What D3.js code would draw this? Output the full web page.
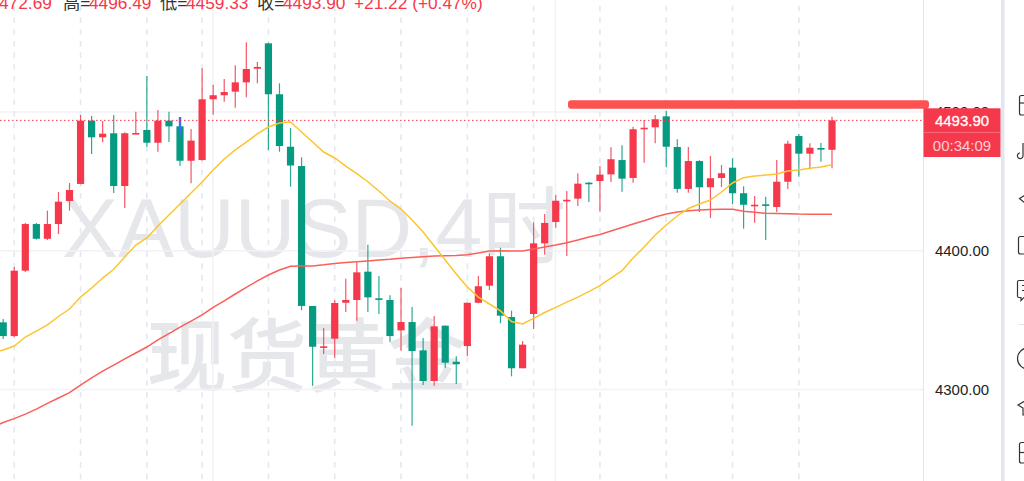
<!DOCTYPE html>
<html><head><meta charset="utf-8">
<style>html,body{margin:0;padding:0;background:#fff;overflow:hidden}svg{display:block}</style>
<script src="https://cdnjs.cloudflare.com/ajax/libs/d3/7.8.5/d3.min.js"></script>
</head><body><svg id="c" width="1024" height="481"></svg>
<script>
const opens=[4348.4,4338.5,4385.6,4419.2,4408.6,4419.2,4435.8,4448.1,4493.7,4481.7,4484.6,4446.6,4484.1,4487,4477.8,4493.7,4489.6,4464.8,4465.3,4509.1,4512,4514.6,4521.3,4531.1,4549.4,4512.7,4474.9,4461,4360.2,4330.4,4336.6,4362.5,4364.5,4384.9,4365.7,4364.5,4342.6,4348.6,4328.2,4306.1,4346,4320,4331.3,4362.5,4374.8,4396,4352.2,4315.3,4354.4,4405.3,4420.7,4436,4437.5,4449,4450.2,4455,4465.3,4452.4,4487.5,4488.9,4496.8,4474.7,4444.5,4464.6,4445.7,4452.4,4459.8,4441.4,4432.4,4433.4,4431.5,4449.7,4482.6,4469.9,4474,4472.69];
const highs=[4350.8,4388.3,4420,4420,4428.8,4442.3,4448.8,4497.8,4497,4493.4,4497.8,4485.3,4500.1,4525.9,4501.4,4500.1,4496.3,4487.7,4531.4,4519.6,4523.7,4533.6,4550.2,4536,4549.9,4520.6,4488.4,4467.3,4360.2,4344.3,4364.3,4379.8,4391.6,4404.3,4381.8,4367.9,4373.1,4359.4,4337.1,4353,4346,4323.9,4362.5,4381.8,4398.1,4402.2,4356.8,4334.9,4420.5,4426.4,4440.1,4443,4455.8,4449.5,4461,4474.5,4475.9,4489.3,4494.2,4497.8,4500.9,4480.3,4474.7,4465.1,4468.2,4461.7,4466.6,4446.4,4439.4,4438.9,4465.3,4479.3,4484.1,4477.4,4477.6,4496.49];
const lows=[4336.4,4337.8,4384.7,4408.1,4407.7,4412,4428.8,4447.8,4469.7,4478.1,4441.6,4430.8,4483.9,4474.9,4471.3,4478.3,4461,4448.6,4465,4498,4507.4,4503,4510.5,4520.6,4472.6,4471.3,4446.1,4357.1,4302.7,4325.6,4322.9,4355.8,4349.6,4355.8,4354.4,4334.4,4327.9,4273.9,4303.2,4302.7,4315.7,4304,4324.1,4362.1,4371.7,4347.7,4309.5,4315.3,4343.6,4397.1,4416.6,4396.2,4432.2,4435.1,4428.1,4449.5,4442.5,4449,4463.4,4477.4,4460.1,4441.8,4441.8,4427.9,4423.6,4445.9,4433.6,4415.9,4420.2,4407.7,4427.9,4444.5,4453.3,4458.6,4464.1,4459.33];
const closes=[4338.5,4385.6,4419.2,4408.6,4419.2,4435.3,4443.7,4493.7,4481.7,4484.3,4446.6,4484.6,4484.8,4477.8,4493.7,4489.6,4464.8,4479.3,4509.1,4512,4514.3,4521.3,4530.9,4532.4,4512.7,4475.4,4461.4,4360.2,4330.8,4331.1,4362.3,4364.5,4384.4,4366.4,4364.7,4338.5,4348.6,4327.7,4306.1,4345.5,4319.3,4318.2,4362.5,4374.4,4396,4353.2,4315.3,4332.3,4405.3,4420,4436,4436.7,4448.3,4448.3,4454.8,4465.9,4451.9,4487.5,4488.6,4494.7,4474.9,4444.5,4464.6,4445.7,4452.2,4455.8,4441.4,4433.1,4433.1,4432.4,4449.7,4477.1,4469.9,4474.2,4472.8,4493.9];
const maFast=[4326.3,4328.5,4331.3,4337.8,4342.1,4346.5,4352.6,4358,4366.6,4373.1,4380.3,4386.6,4395.5,4404.1,4409.2,4417.8,4425.7,4433.6,4441.6,4449.5,4458.1,4466.1,4472.6,4478.3,4484.1,4489.1,4492,4492.7,4485.5,4478.3,4471.1,4466.8,4461,4455.6,4449.7,4443,4435.8,4430,4422.1,4413.5,4403.4,4393.3,4383.2,4373.8,4366.6,4361.6,4356.6,4349,4347.2,4351.3,4355.5,4359.2,4363,4366.6,4370.5,4374.8,4380.3,4385.6,4394.7,4402.7,4411.3,4418.5,4425,4430.4,4433.6,4436.5,4442.3,4448.8,4452.6,4453.8,4454.5,4455.3,4457.4,4458.1,4459.4,4460.3,4462];
const maSlow=[4273,4276.2,4279,4282.3,4285.9,4290,4293.9,4297.7,4303.2,4308.3,4313.3,4317.6,4322,4326.3,4330.6,4335.7,4340.3,4345,4349.3,4353.7,4359.1,4363.8,4368.8,4373.6,4378.2,4382.5,4386.1,4388.8,4389,4389,4389.8,4390.8,4391.5,4392,4392.6,4393.3,4393.8,4394.5,4395.1,4395.7,4396.2,4396.3,4396.5,4397,4398.3,4399.8,4400,4399.8,4399.8,4401.2,4402.7,4404.1,4405.8,4407.7,4409.9,4411.7,4414.2,4416.7,4419.2,4421.6,4424.3,4426.4,4427.9,4428.8,4429.3,4429.7,4429.8,4429.8,4428.4,4427.7,4426.9,4426.8,4426.7,4426.4,4426.3,4426.2,4426.2];
const priceTicks=[4300,4400,4500];
const tickLabels=["4300.00","4400.00","4500.00"];
const dashedBars=[1,7,13,18,24,30,36,42,48,54,60,66,72];
const solidBars=[19,50];
const headerTexts=["472.69","高=","4496.49","低=","4459.33","收=","4493.90","+21.22 (+0.47%)"];
const lastPrice=4493.9, lastLabel="4493.90", countdown="00:34:09", resistance=4505.5;
const watermark=["XAUUSD,4时","现货黄金"];

const svg=d3.select("#c");
const up="#f5384b",down="#069a81";
const x=d3.scaleLinear().domain([0,75]).range([3.2,832]);
const y=d3.scaleLinear().domain([4300,4400]).range([389.5,250.7]);
const W=923;

// watermark
const wm=svg.append("g").attr("fill","#e6e7ea").attr("font-family","'Liberation Sans','Noto Sans CJK SC',sans-serif");
wm.append("text").attr("x",62).attr("y",257).attr("font-size",84).text(watermark[0]);
wm.append("text").attr("x",147).attr("y",385).attr("font-size",80).attr("font-weight",500).attr("font-family","'Noto Sans CJK SC',sans-serif").text(watermark[1]);

// grid
svg.append("g").selectAll("line").data(priceTicks).join("line")
 .attr("x1",0).attr("x2",W).attr("y1",d=>y(d)).attr("y2",d=>y(d)).attr("stroke","#f2f2f5").attr("stroke-width",1.5);
svg.append("g").selectAll("line").data(solidBars).join("line")
 .attr("x1",d=>x(d)-0.3).attr("x2",d=>x(d)-0.3).attr("y1",0).attr("y2",481).attr("stroke","#f2f2f5").attr("stroke-width",1.5);
svg.append("g").selectAll("line").data(dashedBars).join("line")
 .attr("x1",d=>x(d)).attr("x2",d=>x(d)).attr("y1",5.8).attr("y2",481)
 .attr("stroke","#e5e7f1").attr("stroke-width",1.6).attr("stroke-dasharray","5.5 6.2");

// candles
const idx=d3.range(opens.length);
const col=i=>closes[i]>=opens[i]?up:down;
const g=svg.append("g");
g.selectAll("line").data(idx).join("line")
 .attr("x1",i=>x(i)).attr("x2",i=>x(i)).attr("y1",i=>y(highs[i])).attr("y2",i=>y(lows[i]))
 .attr("stroke",col).attr("stroke-width",1.2).attr("stroke-opacity",.85);
g.selectAll("rect").data(idx).join("rect")
 .attr("x",i=>x(i)-3.6).attr("width",7.2)
 .attr("y",i=>Math.min(y(opens[i]),y(closes[i])))
 .attr("height",i=>Math.max(1.6,Math.abs(y(opens[i])-y(closes[i]))))
 .attr("fill",col);
// blue highlight on bar 16
svg.append("line").attr("x1",x(16)).attr("x2",x(16)).attr("y1",y(4496.3)).attr("y2",y(4483.5))
 .attr("stroke","#3d6df0").attr("stroke-width",2.4);

// MAs
const line=d3.line().x((d,i)=>x(i-1)).y(d=>y(d));
svg.append("path").attr("d",line(maSlow)).attr("fill","none").attr("stroke","#fa5f5a").attr("stroke-width",1.5);
svg.append("path").attr("d",line(maFast)).attr("fill","none").attr("stroke","#fcc52e").attr("stroke-width",1.5);

// last-price dotted line
svg.append("line").attr("x1",0).attr("x2",W).attr("y1",y(lastPrice)).attr("y2",y(lastPrice))
 .attr("stroke",up).attr("stroke-dasharray","1.5 2.5").attr("stroke-width",1);

// axis
const axisFont="'Liberation Sans',Arial,sans-serif";
svg.append("line").attr("x1",923.5).attr("x2",923.5).attr("y1",0).attr("y2",481).attr("stroke","#e2e5ee");
svg.append("g").selectAll("text").data(priceTicks).join("text")
 .attr("x",962).attr("y",d=>y(d)+5.5).attr("text-anchor","middle").attr("font-size",15)
 .attr("font-family",axisFont).attr("fill","#222").text((d,i)=>tickLabels[i]);

// resistance drawn line
svg.append("rect").attr("x",568).attr("y",y(resistance)-4).attr("width",361).attr("height",8.4).attr("rx",3)
 .attr("fill","#fc5350");

// price label
svg.append("rect").attr("x",923.5).attr("y",108.3).attr("width",77).attr("height",48.7).attr("fill",up);
svg.append("line").attr("x1",923.5).attr("x2",1000.5).attr("y1",132.5).attr("y2",132.5).attr("stroke","#f76a78");
svg.append("text").attr("x",962).attr("y",126).attr("text-anchor","middle").attr("font-size",15).attr("font-family",axisFont).attr("stroke","#fff").attr("stroke-width",.3).attr("fill","#fff").text(lastLabel);
svg.append("text").attr("x",962).attr("y",151).attr("text-anchor","middle").attr("font-size",15).attr("font-family",axisFont).attr("fill","#fbd0d4").text(countdown);

// header
const headerX=[-1,63,89,160,186,257,283,354];
svg.append("g").selectAll("text").data(headerTexts).join("text")
 .attr("x",(d,i)=>headerX[i]).attr("y",8.5).attr("font-size",17.3)
 .attr("font-family","'Liberation Sans','Noto Sans CJK SC',sans-serif")
 .attr("fill",d=>/[高低收]/.test(d)?"#333":up).text(d=>d);

// toolbar strip
svg.append("rect").attr("x",1001).attr("y",0).attr("width",3.5).attr("height",481).attr("fill","#e1e6f0");
// toolbar icons (cut off by the window edge)
const icons=svg.append("g").attr("fill","none").attr("stroke","#333").attr("stroke-width",1.2);
icons.append("rect").attr("x",1019.5).attr("y",95.5).attr("width",14).attr("height",19.5).attr("rx",2);
icons.append("path").attr("d","M1019.5 103H1030");
icons.append("path").attr("d","M1023 143V155.5A2.8 2.8 0 1 1 1020 153");
icons.append("path").attr("d","M1030 192L1019.5 198.5L1026 204M1024 190");
icons.append("rect").attr("x",1018.5).attr("y",236.5).attr("width",14).attr("height",17.5).attr("rx",2);
icons.append("path").attr("d","M1030 280.5H1019A1.5 1.5 0 0 0 1017.5 282V296A1.5 1.5 0 0 0 1019 297.5H1021V300.5L1024 297.5H1030M1022 285.5H1030M1022 290.5H1030");
svg.append("line").attr("x1",1018).attr("x2",1024).attr("y1",324.5).attr("y2",324.5).attr("stroke","#e4e6ec");
icons.append("circle").attr("cx",1028).attr("cy",358.5).attr("r",10.5);
icons.append("path").attr("d","M1030 398L1018 405L1023 408V415H1030");
icons.append("rect").attr("x",1019.5).attr("y",442.5).attr("width",14).attr("height",20.5).attr("rx",2);
icons.append("path").attr("d","M1019.5 452.5H1030");
</script></body></html>
